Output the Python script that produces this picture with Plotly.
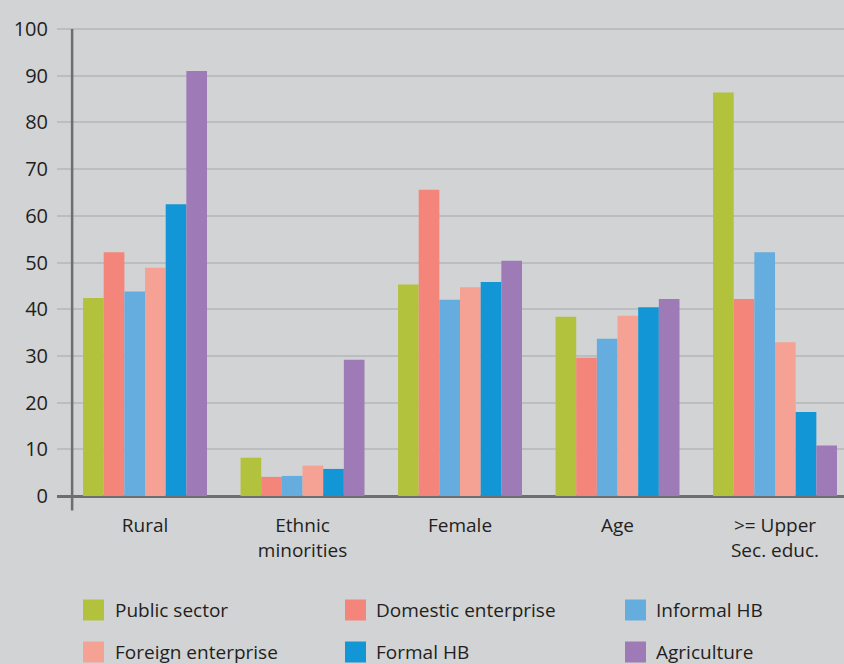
import plotly.graph_objects as go

categories = ["Rural", "Ethnic<br>minorities", "Female", "Age", ">= Upper<br>Sec. educ."]

series_names = ["Public sector", "Domestic enterprise", "Informal HB",
                "Foreign enterprise", "Formal HB", "Agriculture"]
series_colors = ["#b3c23d", "#f4857a", "#65addf", "#f5a193", "#1296d5", "#9e7bb6"]

public_sector = [42.4, 8.2, 45.3, 38.4, 86.4]
domestic_enterprise = [52.2, 4.1, 65.6, 29.6, 42.2]
informal_hb = [43.8, 4.3, 42.0, 33.7, 52.2]
foreign_enterprise = [48.9, 6.5, 44.7, 38.6, 32.9]
formal_hb = [62.5, 5.8, 45.8, 40.4, 18.0]
agriculture = [91.0, 29.2, 50.4, 42.2, 10.8]

y_ticks = [0, 10, 20, 30, 40, 50, 60, 70, 80, 90, 100]

all_values = [public_sector, domestic_enterprise, informal_hb,
              foreign_enterprise, formal_hb, agriculture]

bg = "#d2d3d5"
txt = "#231f20"
axis_col = "#6d6e70"
font_name = "Open Sans"

fig = go.Figure()
for name, col, vals in zip(series_names, series_colors, all_values):
    fig.add_trace(go.Bar(x=list(range(len(categories))), y=vals, name=name,
                         marker=dict(color=col, line=dict(width=0)),
                         showlegend=False))

# plot area in pixels: x 57..844, y 27..511
L, R, T, B = 57, 844, 27, 511
W, H = 844, 664
pw, ph = R - L, B - T

fig.update_layout(
    width=W, height=H,
    margin=dict(l=L, r=W - R, t=T, b=H - B),
    paper_bgcolor=bg, plot_bgcolor=bg,
    barmode="group", bargap=0.213, bargroupgap=0,
    font=dict(family=font_name, size=19, color=txt),
    xaxis=dict(range=[-0.559, 4.438], tickmode="array",
               tickvals=list(range(len(categories))), ticktext=categories,
               showgrid=False, zeroline=False, showline=False,
               ticks="", ticklabelstandoff=1),
    yaxis=dict(range=[-3.21, 100.43], tickvals=y_ticks,
               tickfont=dict(size=20),
               showgrid=True, gridcolor="#bcbdbf", gridwidth=2,
               zeroline=True, zerolinecolor=axis_col, zerolinewidth=2.5,
               showline=False, ticks="", ticklabelstandoff=8),
    showlegend=False,
)

# vertical axis line, offset right of the grid start
fig.add_shape(type="line", xref="x", yref="y", x0=-0.463, x1=-0.463,
              y0=-3.1, y1=100, line=dict(color=axis_col, width=2.5), layer="above")

# manual legend: 3 columns x 2 rows
sw_x = [83, 345, 625]
tx_x = [113, 374, 654]
row_y = [610, 652]
for i, (name, col) in enumerate(zip(series_names, series_colors)):
    c, r = i % 3, i // 3
    x0 = (sw_x[c] - L) / pw
    x1 = (sw_x[c] + 21 - L) / pw
    yc = row_y[r]
    y0 = (B - (yc + 10.5)) / ph
    y1 = (B - (yc - 10.5)) / ph
    fig.add_shape(type="rect", xref="paper", yref="paper",
                  x0=x0, x1=x1, y0=y0, y1=y1,
                  fillcolor=col, line=dict(width=0))
    fig.add_annotation(xref="paper", yref="paper",
                       x=(tx_x[c] - L) / pw, y=(B - yc) / ph,
                       xanchor="left", yanchor="middle", showarrow=False,
                       text=name, font=dict(family=font_name, size=19, color=txt))

fig.write_html("out.html", config={"displayModeBar": False},
               post_script="document.body.style.margin='0';document.body.style.overflow='hidden';")
